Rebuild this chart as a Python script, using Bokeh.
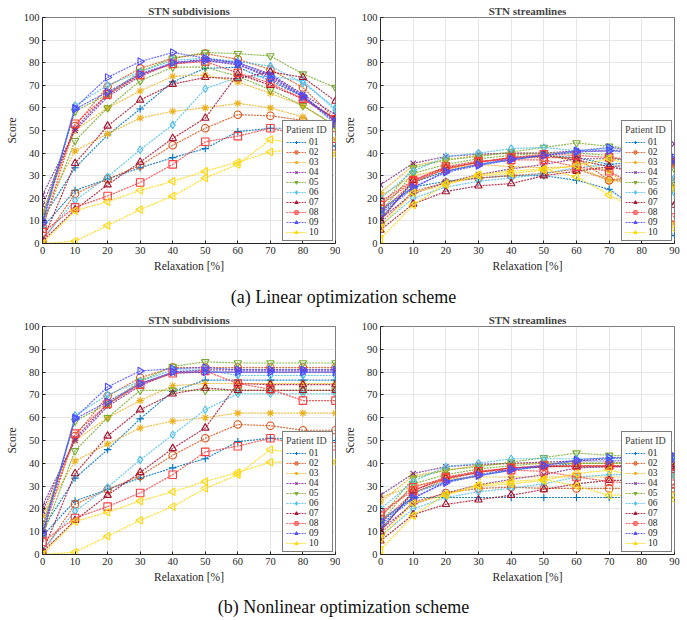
import math
from bokeh.plotting import figure
from bokeh.models import Legend, LegendItem, Div, FixedTicker
from bokeh.layouts import column, row
from bokeh.embed import file_html
from bokeh.resources import INLINE

relaxation = [0, 10, 20, 30, 40, 50, 60, 70, 80, 90]
patients = ["01", "02", "03", "04", "05", "06", "07", "08", "09", "10"]

# Linear scheme, STN subdivisions (two curves per patient)
lin_sub_a = [
    [11, 33.5, 48, 59.5, 71.5, 77.5, 78, 72, 65, 54],
    [13, 52, 69.5, 77.5, 82, 84, 81.5, 77, 69, 55],
    [13.5, 50, 60, 67.5, 74, 74.5, 71.5, 66.5, 61, 52],
    [21.5, 50, 65, 74, 80, 81.5, 80, 75, 66, 57],
    [12, 58.5, 66, 76, 82, 84.5, 84, 83, 75, 69],
    [8, 61, 70, 76, 81, 82, 80.5, 78.5, 71, 60],
    [1, 35.5, 52, 63.5, 70.5, 73.5, 73, 76, 73.5, 63],
    [6.5, 53, 66, 74.5, 79.5, 80.5, 75.5, 71, 64, 55],
    [10, 60, 73.5, 80.5, 84.5, 82, 80, 74.5, 65.5, 54],
    [0, 1, 8, 15, 21, 29, 35, 46, 44, 39.5],
]
lin_sub_b = [
    [7, 23.5, 28.5, 33.5, 38, 42, 49.5, 51, 51, 43],
    [1, 22, 28.5, 34.5, 43.5, 51, 57, 56.5, 54.5, 51],
    [14, 41, 48.5, 55.5, 58.5, 60, 62, 60, 56, 46],
    [17, 51, 66, 75, 79.5, 81, 79, 74, 65, 55],
    [8, 45.5, 60, 72, 78, 78, 74, 68, 61, 52],
    [2, 19, 29.5, 41.5, 52.5, 68.5, 73.5, 74, 72, 59],
    [1, 15, 26, 36, 46.5, 55.5, 75, 70, 64, 55],
    [5, 16, 21, 27, 35, 45, 47.5, 51, 48, 43],
    [9, 59.5, 67, 75, 80, 81, 79.5, 73, 65, 53],
    [0, 14.5, 18.5, 23.5, 27.5, 32, 36, 40.5, 42, 39.5],
]

# Linear scheme, STN streamlines
lin_str_a = [
    [14, 25, 27.5, 29, 30, 30, 28, 24, 14, 3.5],
    [14, 27, 33, 36, 38, 38, 38, 28, 30, 36],
    [22.5, 34.5, 37, 39, 40, 40, 36, 32, 20, 9],
    [26, 35.5, 38.5, 39.5, 40, 40, 41, 41, 42, 44],
    [16, 33.5, 37, 38.5, 40.5, 42.5, 44.5, 43, 41.5, 33],
    [20, 32, 38.5, 40, 42, 42.5, 41, 42, 38, 29],
    [6, 17.5, 23, 25.5, 26.5, 30, 32, 34, 31, 17],
    [18.5, 28, 34, 36.5, 37, 37, 34, 32, 24, 11.5],
    [15, 25, 31.5, 34.5, 37, 39, 41, 42.5, 41, 38],
    [2, 17, 26.5, 30.5, 32, 33, 29.5, 21.5, 14, 6.5],
]
lin_str_b = [
    [11, 27, 32, 35, 37, 39, 38, 35, 36, 36],
    [9, 23, 27, 29, 30, 31, 33, 28, 28, 27],
    [21, 30, 33, 35, 34, 33.5, 34, 28, 26, 25],
    [11, 22, 27, 30.5, 33, 35, 37.5, 37.5, 37, 36.5],
    [14, 31, 35, 37.5, 39, 40, 40, 39, 33, 27],
    [8, 20, 25, 27.5, 29, 31, 33.5, 35, 30, 22.5],
    [10, 28, 33.5, 36, 38, 39, 37, 34, 35, 36],
    [17, 27.5, 33, 36, 38, 39.5, 39, 38, 37, 35.5],
    [13, 24.5, 32, 35, 37.5, 39, 40.5, 41, 40, 37],
    [7, 22.5, 26, 30, 31, 32.5, 34.5, 37.5, 34, 24],
]

# Nonlinear scheme, STN subdivisions
nl_sub_a = [
    [11, 33.5, 46, 59.5, 71.5, 76.5, 76.5, 76.5, 76.5, 76.5],
    [13, 52, 69.5, 77.5, 82, 82, 82, 82, 82, 82],
    [17, 50, 60, 67.5, 74, 75, 75, 75, 75, 75],
    [21.5, 50, 65, 74, 80, 81, 81, 81, 81, 81],
    [12, 58.5, 66, 76, 82.5, 84.5, 84, 84, 84, 84],
    [8, 61, 70, 76, 81, 81, 78.5, 78.5, 78.5, 78.5],
    [1, 35.5, 52, 63.5, 70.5, 73, 72, 72, 72, 72],
    [9, 53, 66, 74.5, 79.5, 80.5, 75, 72.5, 67.5, 67.5],
    [10, 60, 73.5, 80.5, 81.5, 82, 81, 81, 81, 81],
    [0, 1, 8, 15, 21, 29, 35, 46, 44, 40.5],
]
nl_sub_b = [
    [8, 23.5, 28.5, 33.5, 38, 42, 49.5, 51, 50.5, 50],
    [1, 22, 28.5, 34.5, 43.5, 51, 57, 56.5, 54.5, 54.5],
    [17, 41, 48.5, 55.5, 58.5, 60, 62, 62, 62, 62],
    [19, 51, 66, 75, 79.5, 80, 80, 80, 80, 80],
    [8, 45.5, 60, 72, 72, 72, 72, 72, 72, 72],
    [2, 19, 29.5, 41.5, 52.5, 63.5, 70.5, 70.5, 70.5, 70.5],
    [1, 15, 26, 36, 46.5, 55.5, 75, 74.5, 74.5, 74.5],
    [5.5, 16, 21, 27, 35, 45, 47.5, 51, 48, 47.5],
    [9, 59.5, 67, 75, 80, 80, 80, 80, 80, 80],
    [0, 14.5, 18.5, 23.5, 27.5, 32, 36, 40.5, 40.5, 40.5],
]

# Nonlinear scheme, STN streamlines
nl_str_a = [
    [14, 25, 25, 25, 25, 25, 25, 25, 25, 25],
    [9, 23, 27, 29, 29.5, 29, 29, 29, 29, 29],
    [23, 34.5, 37, 39, 40, 40, 40, 40, 40, 40],
    [26, 35.5, 38.5, 39.5, 40, 40.5, 41, 42, 43, 43.5],
    [16, 33.5, 37, 38.5, 40.5, 42.5, 44.5, 43.5, 43, 43],
    [20, 32, 38.5, 40, 42, 42, 42, 42, 42, 42],
    [6, 17.5, 22, 24, 26, 28.5, 31, 32.5, 32.5, 37],
    [18.5, 28, 34, 36.5, 37, 36.5, 34, 32, 31, 31],
    [15, 25, 31.5, 34.5, 37, 39, 41.5, 42.5, 42.5, 43],
    [2, 17, 26.5, 30.5, 32, 33, 30, 26, 26, 26],
]
nl_str_b = [
    [11, 27, 32, 34.5, 37, 38.5, 40, 40, 40.5, 41],
    [14, 27, 33, 36, 38, 38.5, 39, 39, 39, 39],
    [25, 30, 33, 34, 34, 34, 34, 34, 34, 34.5],
    [11, 22, 27, 30.5, 33, 35, 38, 38.5, 38.5, 38.5],
    [14, 31, 35, 37.5, 39, 40, 40, 40, 40.5, 41],
    [8, 20, 25, 27.5, 29, 31, 34, 35, 35, 34.5],
    [10, 28, 33.5, 36, 38, 38.5, 38.5, 38.5, 38.5, 38.5],
    [17, 29.5, 33.5, 36.5, 38, 39, 39, 39, 39, 39],
    [13, 24.5, 32, 35, 37.5, 39, 41, 41, 41.5, 42],
    [7, 22.5, 26, 30, 31, 32.5, 35.5, 37, 34, 24],
]

colors = ["#0072BD", "#D95319", "#EDB120", "#7E2F8E", "#77AC30",
          "#4DBEEE", "#A2142F", "#FF3B3B", "#4D4DFF", "#FFD700"]
markers = ["cross", "circle", "asterisk", "x", "inverted_triangle",
           "diamond", "triangle", "square", "triangle", "triangle"]
angles = [0, 0, 0, 0, 0, 0, 0, 0, -math.pi / 2, math.pi / 2]
filled = [False, False, True, False, False, False, False, False, False, False]

SERIF = "'Liberation Serif', serif"


def make_panel(title, data_a, data_b, left_border, right_border, top_border, frame_w, frame_h):
    p = figure(width=left_border + frame_w + right_border,
               height=top_border + frame_h + 37,
               x_range=(0, 90), y_range=(0, 100),
               output_backend="svg", toolbar_location=None,
               min_border_left=left_border, min_border_right=right_border,
               min_border_top=top_border, min_border_bottom=37,
               frame_width=frame_w, frame_height=frame_h)
    p.title.text = title
    p.title.align = "center"
    p.title.text_font = SERIF
    p.title.text_font_size = "11px"
    p.title.text_font_style = "bold"
    p.title.offset = 0
    p.title.standoff = 2
    p.xaxis.axis_label = "Relaxation [%]"
    p.yaxis.axis_label = "Score"
    for ax in (p.xaxis, p.yaxis):
        ax.axis_label_text_font = SERIF
        ax.axis_label_text_font_size = "11.5px"
        ax.axis_label_text_font_style = "normal"
        ax.axis_label_text_color = "#262626"
        ax.major_label_text_font = SERIF
        ax.major_label_text_font_size = "10.5px"
        ax.major_label_text_color = "#262626"
        ax.axis_line_color = "#262626"
        ax.major_tick_line_color = "#262626"
        ax.major_tick_in = 3
        ax.major_tick_out = 0
        ax.minor_tick_line_color = None
        ax.axis_label_standoff = 3
        ax.major_label_standoff = 3
    p.xaxis.ticker = FixedTicker(ticks=relaxation)
    p.yaxis.ticker = FixedTicker(ticks=list(range(0, 101, 10)))
    p.xgrid.ticker = FixedTicker(ticks=relaxation)
    p.ygrid.ticker = FixedTicker(ticks=list(range(0, 101, 10)))
    p.grid.grid_line_color = "#e6e6e6"
    p.outline_line_color = "#262626"
    p.outline_line_alpha = 0.6

    items = []
    for i, pid in enumerate(patients):
        c = colors[i]
        rends = []
        for j, series in enumerate((data_a[i], data_b[i])):
            ln = p.line(relaxation, series, line_color=c, line_width=1.2,
                        line_dash="2 1", line_alpha=0.85)
            sc = p.scatter(relaxation, series, marker=markers[i], size=7.5,
                           angle=angles[i], line_color=c, line_width=1.1,
                           fill_color=c if filled[i] else None)
            if j == 0:
                rends = [ln, sc]
        items.append(LegendItem(label=pid, renderers=rends))
    legend = Legend(items=items, location="bottom_right",
                    title="Patient ID", title_text_font=SERIF,
                    title_text_font_size="10px", title_text_font_style="normal",
                    title_standoff=2,
                    label_text_font=SERIF, label_text_font_size="9.5px",
                    label_text_color="#262626",
                    label_height=8, label_standoff=3,
                    glyph_height=8, glyph_width=20,
                    spacing=0, padding=3, margin=2,
                    border_line_color="#262626", border_line_alpha=0.6,
                    background_fill_alpha=1.0)
    p.add_layout(legend)
    return p


p1 = make_panel("STN subdivisions", lin_sub_a, lin_sub_b, 42, 5, 17, 293, 226)
p2 = make_panel("STN streamlines", lin_str_a, lin_str_b, 39, 14, 17, 294, 226)
p3 = make_panel("STN subdivisions", nl_sub_a, nl_sub_b, 42, 5, 15, 293, 228)
p4 = make_panel("STN streamlines", nl_str_a, nl_str_b, 39, 14, 15, 294, 228)

cap_style = {"font-family": "'Liberation Serif', serif", "font-size": "18px",
             "text-align": "center", "width": "687px", "color": "#111",
             "white-space": "nowrap"}
cap1 = Div(text="(a) Linear optimization scheme", width=687, height=25,
           margin=(5, 0, 0, 0),
           styles=dict(cap_style, **{"line-height": "25px"}))
cap2 = Div(text="(b) Nonlinear optimization scheme", width=687, height=23,
           margin=(5, 0, 0, 0),
           styles=dict(cap_style, **{"line-height": "23px"}))

layout = column(row(p1, p2), cap1, row(p3, p4), cap2)

open("out.html", "w").write(file_html(layout, INLINE))
